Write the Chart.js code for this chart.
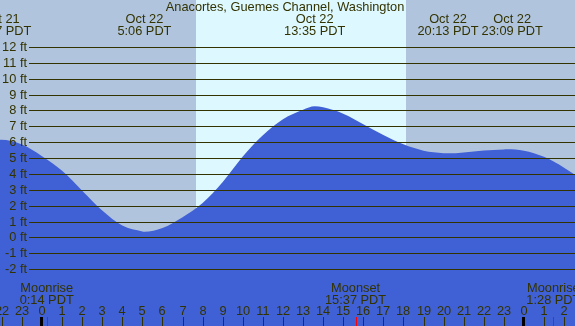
<!DOCTYPE html>
<html>
<head>
<meta charset="utf-8">
<script src="https://cdn.jsdelivr.net/npm/chart.js@4/dist/chart.umd.min.js"></script>
<style>
  html, body { margin:0; padding:0; background:#b0c4de; }
  #wrap { width:575px; height:326px; position:relative; }
</style>
</head>
<body>
<div id="wrap"><canvas id="tide" width="575" height="326"></canvas></div>
<script>
// hours relative to midnight Oct 22 (negative = Oct 21, >24 = Oct 23)
const tideHours = [-2.1, -2.05, -1, 0, 1, 2, 3, 4, 5, 5.1, 6, 7, 8, 9, 10, 11, 12, 13, 13.58, 14, 15, 16, 17, 18, 19, 20, 20.22, 21, 22, 23, 23.15, 24, 25, 26, 26.6];
const tideFeet  = [6.14, 6.15, 5.85, 5.12, 4.2, 2.95, 1.7, 0.75, 0.38, 0.36, 0.6, 1.28, 2.18, 3.5, 5.1, 6.44, 7.45, 8.05, 8.27, 8.2, 7.8, 7.13, 6.45, 5.87, 5.47, 5.31, 5.3, 5.36, 5.48, 5.55, 5.56, 5.47, 5.08, 4.4, 3.9];

const extremeHours = [-2.05, 5.1, 13.58, 20.22, 23.15];
const extremeDates = ['Oct 21', 'Oct 22', 'Oct 22', 'Oct 22', 'Oct 22'];
const extremeTimes = ['21:57 PDT', '5:06 PDT', '13:35 PDT', '20:13 PDT', '23:09 PDT'];

const moonHours = [0.233, 15.617, 25.467];
const moonNames = ['Moonrise', 'Moonset', 'Moonrise'];
const moonTimes = ['0:14 PDT', '15:37 PDT', '1:28 PDT'];

const sunrise = 7.67, sunset = 18.13;
const feetTicks = [-2, -1, 0, 1, 2, 3, 4, 5, 6, 7, 8, 9, 10, 11, 12];
const hourTicks = [-2, -1, 0, 1, 2, 3, 4, 5, 6, 7, 8, 9, 10, 11, 12, 13, 14, 15, 16, 17, 18, 19, 20, 21, 22, 23, 24, 25, 26];

const TEXT = '#333300';
const FONT = '12.8px "Liberation Sans", Arial, sans-serif';

const decor = {
  id: 'decor',
  beforeDatasetsDraw(chart){
    const { ctx, scales:{x} } = chart;
    ctx.save();
    ctx.fillStyle = '#b0c4de';
    ctx.fillRect(0, 0, chart.width, chart.height);
    const x0 = Math.round(x.getPixelForValue(sunrise));
    const x1 = Math.round(x.getPixelForValue(sunset));
    ctx.fillStyle = '#ddf8ff';
    ctx.fillRect(x0, 0, x1 - x0, chart.height);
    ctx.restore();
  },
  afterDatasetsDraw(chart){
    const { ctx, scales:{x, y} } = chart;
    ctx.save();
    ctx.font = FONT;
    ctx.fillStyle = TEXT;
    ctx.strokeStyle = TEXT;

    // feet lines + labels
    ctx.lineWidth = 1;
    ctx.textAlign = 'right';
    ctx.textBaseline = 'middle';
    feetTicks.forEach(f => {
      const py = Math.round(y.getPixelForValue(f)) + 0.5;
      ctx.beginPath();
      ctx.moveTo(29, py);
      ctx.lineTo(chart.width, py);
      ctx.stroke();
      ctx.fillText(f + ' ft', 27, py);
    });

    // hour ticks
    ctx.textAlign = 'center';
    hourTicks.forEach(h => {
      const px = Math.round(x.getPixelForValue(h));
      const lbl = ((h % 24) + 24) % 24;
      ctx.fillText(String(lbl), px, 311);
      if(lbl === 0){
        ctx.fillStyle = '#000';
        ctx.fillRect(px - 2, 317, 3, 9);
        ctx.fillStyle = TEXT;
      }else{
        ctx.fillRect(px, 317, 1, 9);
      }
    });

    // moon events
    moonHours.forEach((h, i) => {
      const px = x.getPixelForValue(h);
      ctx.fillStyle = '#ff0000';
      ctx.fillRect(Math.round(px), 317, 1, 9);
      ctx.fillStyle = TEXT;
      ctx.fillText(moonNames[i], px, 288);
      ctx.fillText(moonTimes[i], px, 300);
    });

    // title
    ctx.fillText('Anacortes, Guemes Channel, Washington', 285, 7);

    // extremes, nudged apart when they would touch
    let prevEnd = -Infinity;
    extremeHours.forEach((h, i) => {
      let px = x.getPixelForValue(h);
      const w = Math.max(ctx.measureText(extremeDates[i]).width, ctx.measureText(extremeTimes[i]).width);
      if(px - w / 2 < prevEnd + 3) px = prevEnd + 3 + w / 2;
      ctx.fillText(extremeDates[i], px, 19);
      ctx.fillText(extremeTimes[i], px, 31);
      prevEnd = px + w / 2;
    });
    ctx.restore();
  }
};

new Chart(document.getElementById('tide'), {
  type: 'line',
  data: {
    datasets: [{
      data: tideHours.map((h, i) => ({ x: h, y: tideFeet[i] })),
      fill: 'start',
      backgroundColor: '#4060d6',
      borderWidth: 0,
      pointRadius: 0,
      cubicInterpolationMode: 'monotone'
    }]
  },
  options: {
    responsive: false,
    animation: false,
    layout: { padding: 0 },
    plugins: { legend: { display:false }, tooltip: { enabled:false } },
    scales: {
      x: { type: 'linear', min: -2.092, max: 26.544, display: false },
      y: { min: -5.575, max: 14.96, display: false }
    }
  },
  plugins: [decor]
});
</script>
</body>
</html>
